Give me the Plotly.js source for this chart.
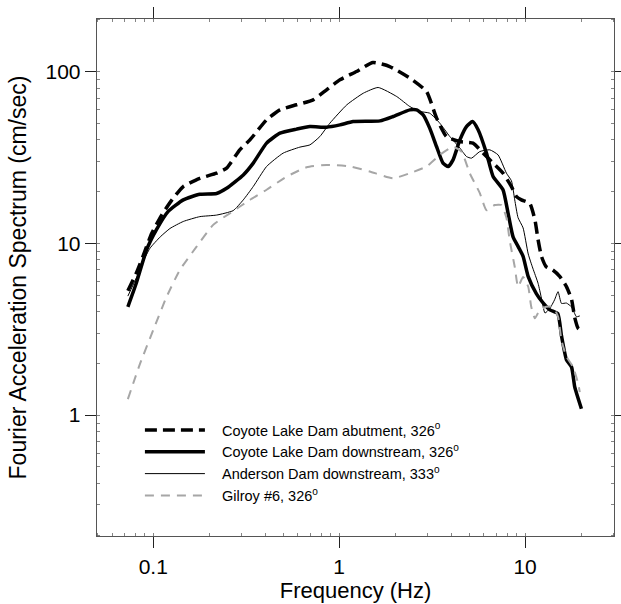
<!DOCTYPE html>
<html>
<head>
<meta charset="utf-8">
<script src="https://cdn.plot.ly/plotly-3.0.1.min.js"></script>
<style>html,body{margin:0;padding:0;background:#fff;}#chart{width:621px;height:604px;}</style>
</head>
<body>
<div id="chart"></div>
<script>
// Coyote Lake Dam abutment, 326°
const abutFreq = [0.073,0.081,0.088,0.098,0.111,0.126,0.145,0.178,0.219,0.248,0.292,0.331,0.407,0.48,0.59,0.725,0.856,1.01,1.24,1.52,1.87,2.4,2.95,3.34,3.78,4.46,5.25,5.94,6.73,7.61,8.45,8.99,9.56,10.6,11.3,11.75,12.25,13.0,14.1,15.4,16.7,17.8,18.5,19.3,20.1];
const abutAmp  = [5.3,6.7,8.4,11.4,14.6,17.9,21.4,23.9,25.6,27.4,35.0,40.0,52.3,59.8,64.0,68.4,78.2,89.5,100,112.8,106.9,91.5,76.5,53.7,41.8,39.1,38.3,33.5,29.3,25.6,21.4,18.7,17.9,17.1,13.7,10.5,8.4,7.3,7.0,6.4,5.6,4.7,3.7,3.2,3.1];

// Coyote Lake Dam downstream, 326°
const downFreq = [0.073,0.081,0.092,0.104,0.12,0.145,0.178,0.219,0.248,0.305,0.345,0.407,0.48,0.59,0.696,0.856,1.01,1.19,1.66,1.95,2.4,2.61,2.83,3.07,3.34,3.62,3.86,4.1,4.46,4.84,5.22,5.59,6.2,6.73,7.61,8.1,8.62,9.17,9.76,10.4,11.5,12.5,13.6,15.0,15.7,16.7,17.8,18.5,20.1];
const downAmp  = [4.27,5.85,9.15,12.0,15.3,17.9,19.3,19.5,20.9,25.0,29.3,38.3,43.8,46.2,47.8,47.4,48.9,51.1,51.6,54.7,59.8,59.8,55.9,46.8,36.6,29.3,28.0,30.6,40.0,47.8,51.1,45.8,33.5,24.5,20.5,15.0,10.9,9.6,8.4,6.4,5.1,4.5,4.1,3.9,2.9,2.1,1.9,1.46,1.09];

// Anderson Dam downstream, 333°
const andFreq = [0.073,0.081,0.088,0.096,0.109,0.123,0.145,0.178,0.219,0.269,0.305,0.345,0.407,0.5,0.615,0.696,0.787,0.891,1.1,1.35,1.62,2.04,2.4,2.72,3.07,3.48,3.94,4.46,4.84,5.15,5.71,6.46,7.16,7.94,8.45,8.8,9.17,9.76,10.4,11.0,11.75,12.25,12.8,13.6,14.4,15.05,15.7,16.7,17.8,18.9,19.7];
const andAmp  = [4.93,6.28,7.79,9.36,10.9,12.2,13.4,14.3,14.6,15.5,17.9,21.4,28.0,33.5,36.3,37.4,41.8,50.0,64.0,74.8,80.7,71.5,62.5,58.5,57.2,50.0,41.8,35.9,32.0,31.3,34.2,35.0,32.7,25.6,23.1,17.9,14.1,12.3,8.67,7.18,5.85,4.8,3.93,4.18,4.68,5.23,4.47,4.49,4.26,3.74,3.78];

// Gilroy #6, 326°
const gilFreq = [0.073,0.085,0.1,0.118,0.139,0.171,0.21,0.269,0.331,0.407,0.52,0.668,0.856,1.14,1.46,1.95,2.4,2.95,3.48,4.1,4.55,5.04,5.71,6.2,6.87,7.47,7.94,8.28,8.8,9.17,9.76,10.4,10.8,11.3,12.0,13.0,14.1,15.05,15.7,16.7,18.1,19.3,19.7];
const gilAmp  = [1.24,2.0,3.13,4.89,6.99,9.56,12.8,15.4,17.9,20.5,24.4,27.7,28.6,28.0,26.2,23.9,25.6,28.0,32.7,36.4,34.2,25.6,19.6,15.6,16.7,16.7,14.1,10.3,7.31,5.59,6.37,5.59,4.27,3.66,4.09,4.27,4.27,3.74,2.73,2.19,1.91,1.53,1.36];

const seriesNames = [
  'Coyote Lake Dam abutment, 326<sup>o</sup>',
  'Coyote Lake Dam downstream, 326<sup>o</sup>',
  'Anderson Dam downstream, 333<sup>o</sup>',
  'Gilroy #6, 326<sup>o</sup>'
];
const xTickVals = [0.1, 1, 10];
const xTickText = ['0.1', '1', '10'];
const yTickVals = [1, 10, 100];
const yTickText = ['1', '10', '100'];

const FONT = 'Liberation Sans, Arial, Helvetica, sans-serif';
const PAD = '&nbsp;&nbsp;&nbsp;';

const traces = [
  {x: abutFreq, y: abutAmp, name: PAD + seriesNames[0], mode: 'lines',
   line: {color: '#000', width: 3.5, dash: '12px,6px', shape: 'spline', smoothing: 0.5}},
  {x: downFreq, y: downAmp, name: PAD + seriesNames[1], mode: 'lines',
   line: {color: '#000', width: 3.5, shape: 'spline', smoothing: 0.5}},
  {x: andFreq, y: andAmp, name: PAD + seriesNames[2], mode: 'lines',
   line: {color: '#000', width: 1, shape: 'spline', smoothing: 0.5}},
  {x: gilFreq, y: gilAmp, name: PAD + seriesNames[3], mode: 'lines',
   line: {color: '#a6a6a6', width: 2, dash: '9px,7px', shape: 'spline', smoothing: 0.5}}
];

const axisCommon = {
  type: 'log',
  showgrid: false,
  zeroline: false,
  showline: true,
  linecolor: '#555',
  linewidth: 1.3,
  mirror: 'allticks',
  ticks: 'outside',
  ticklen: 11,
  tickwidth: 1,
  tickcolor: '#222',
  tickfont: {family: FONT, size: 21, color: '#000'},
  minor: {ticks: 'inside', ticklen: 3, tickwidth: 0.8, tickcolor: '#666', dtick: 'D1', showgrid: false}
};

const layout = {
  width: 621, height: 604,
  margin: {l: 97, r: 7, t: 19, b: 68},
  paper_bgcolor: '#fff', plot_bgcolor: '#fff',
  font: {family: FONT, color: '#000'},
  showlegend: true,
  legend: {
    x: 0.083, y: 0.236, xanchor: 'left', yanchor: 'top',
    bgcolor: 'rgba(0,0,0,0)', borderwidth: 0,
    font: {family: FONT, size: 14.5, color: '#000'},
    itemwidth: 60, tracegroupgap: 0
  },
  xaxis: Object.assign({}, axisCommon, {
    range: [-1.3027, 1.4785],
    tickvals: xTickVals, ticktext: xTickText,
    title: {text: 'Frequency (Hz)', font: {family: FONT, size: 22, color: '#000'}, standoff: 0}
  }),
  yaxis: Object.assign({}, axisCommon, {
    range: [-0.7034, 2.3055],
    tickvals: yTickVals, ticktext: yTickText,
    title: {text: 'Fourier Acceleration Spectrum (cm/sec)', font: {family: FONT, size: 23, color: '#000'}, standoff: 12}
  })
};

Plotly.newPlot('chart', traces, layout, {displayModeBar: false, staticPlot: true});
</script>
</body>
</html>
